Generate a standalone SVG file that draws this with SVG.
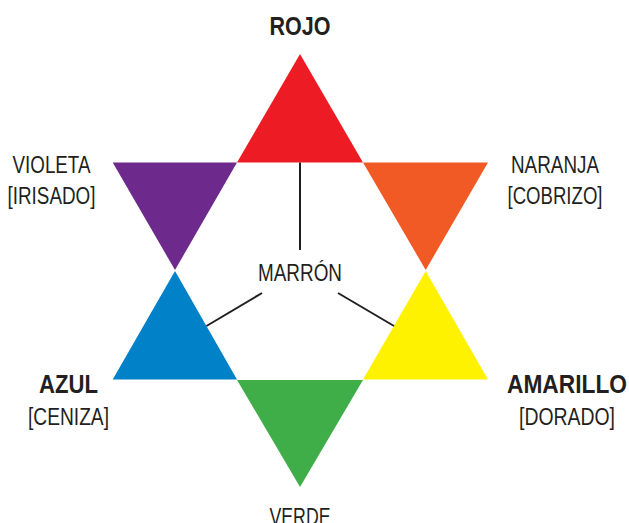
<svg xmlns="http://www.w3.org/2000/svg" width="629" height="523" viewBox="0 0 629 523">
<style>
text{font-family:"Liberation Sans",Arial,sans-serif;fill:#231f20;text-anchor:middle}
.r{font-size:23px}
.b{font-size:25px;font-weight:bold}
.c{stroke:#231f20;stroke-width:2;fill:none}
</style>
<rect width="629" height="523" fill="#fff"/>
<g id="rojo"><polygon points="300,54 237,162.5 363,162.5" fill="#ed1c24"/><text class="b" x="300" y="35" textLength="61" lengthAdjust="spacingAndGlyphs">ROJO</text></g>
<g id="naranja"><polygon points="363,162.5 488,162.5 425.7,270" fill="#f15a24"/><text class="r" x="555" y="173" textLength="88" lengthAdjust="spacingAndGlyphs">NARANJA</text><text class="r" x="555" y="204" textLength="95" lengthAdjust="spacingAndGlyphs">[COBRIZO]</text></g>
<g id="amarillo"><polygon points="425.7,271 363,379.5 488,379.5" fill="#fff200"/><text class="b" x="567" y="393" textLength="120" lengthAdjust="spacingAndGlyphs">AMARILLO</text><text class="r" x="567" y="425" textLength="96" lengthAdjust="spacingAndGlyphs">[DORADO]</text></g>
<g id="verde"><polygon points="237,380 363,380 300,487" fill="#3fae49"/><text class="r" x="300" y="524.5" textLength="61" lengthAdjust="spacingAndGlyphs">VERDE</text></g>
<g id="azul"><polygon points="175,271 112.7,379.5 237,379.5" fill="#0081c8"/><text class="b" x="68.5" y="393" textLength="59" lengthAdjust="spacingAndGlyphs">AZUL</text><text class="r" x="68.5" y="425" textLength="81" lengthAdjust="spacingAndGlyphs">[CENIZA]</text></g>
<g id="violeta"><polygon points="112.7,162.5 237,162.5 175,270" fill="#6d2a8c"/><text class="r" x="51.5" y="173" textLength="78" lengthAdjust="spacingAndGlyphs">VIOLETA</text><text class="r" x="51.5" y="204" textLength="88" lengthAdjust="spacingAndGlyphs">[IRISADO]</text></g>
<g id="marron"><text class="r" x="300" y="280.5" textLength="84" lengthAdjust="spacingAndGlyphs">MARRÓN</text></g>
<g id="connectors">
<line class="c" x1="300" y1="162.5" x2="300" y2="250"/>
<line class="c" x1="262" y1="293" x2="206.5" y2="326"/>
<line class="c" x1="338" y1="293" x2="394" y2="326"/>
</g>
</svg>
